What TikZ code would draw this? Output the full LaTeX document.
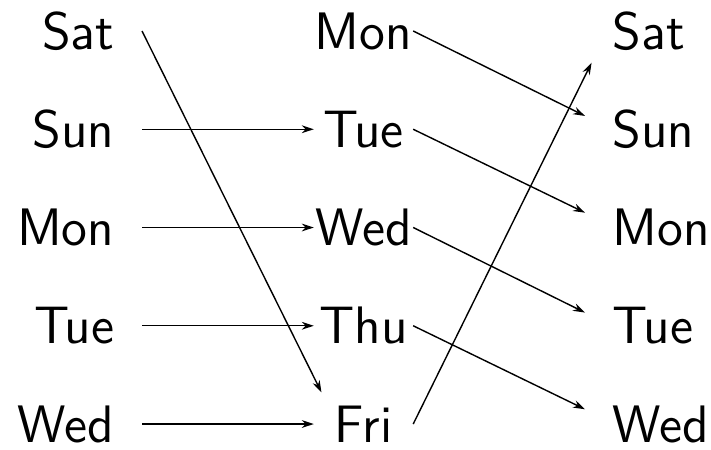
\documentclass[tikz,border=0pt]{standalone}
\usetikzlibrary{arrows.meta}

\tikzset{
  lday/.style={anchor=east,inner xsep=0.27cm,inner ysep=0pt,minimum height=0.62cm},
  mday/.style={inner sep=0pt,minimum width=0.98cm,minimum height=0.62cm},
  rday/.style={anchor=west,inner xsep=0.27cm,inner ysep=0pt,minimum height=0.62cm}
}

\begin{document}
\begin{tikzpicture}[>={Stealth[length=3.4pt,width=2.2pt]},line width=0.4pt,
    font=\sffamily\fontsize{15}{17}\selectfont]
  \useasboundingbox (0,0) rectangle (7.11,4.49);
  % left column
  \node[lday] (l1) at (1.42,4.18)   {Sat};
  \node[lday] (l2) at (1.42,3.1975) {Sun};
  \node[lday] (l3) at (1.42,2.215)  {Mon};
  \node[lday] (l4) at (1.42,1.2325) {Tue};
  \node[lday] (l5) at (1.42,0.25)   {Wed};
  % middle column
  \node[mday] (m1) at (3.635,4.18)   {Mon};
  \node[mday] (m2) at (3.635,3.1975) {Tue};
  \node[mday] (m3) at (3.635,2.215)  {Wed};
  \node[mday] (m4) at (3.635,1.2325) {Thu};
  \node[mday] (m5) at (3.635,0.25)   {Fri};
  % right column
  \node[rday] (r1) at (5.85,4.18)   {Sat};
  \node[rday] (r2) at (5.85,3.1975) {Sun};
  \node[rday] (r3) at (5.85,2.215)  {Mon};
  \node[rday] (r4) at (5.85,1.2325) {Tue};
  \node[rday] (r5) at (5.85,0.25)   {Wed};
  % left -> middle
  \draw[->] (l1.east) -- (m5.143);
  \draw[->] (l2.east) -- (m2.west);
  \draw[->] (l3.east) -- (m3.west);
  \draw[->] (l4.east) -- (m4.west);
  \draw[->] (l5.east) -- (m5.west);
  % middle -> right
  \draw[->] (m1.east) -- (r2.169);
  \draw[->] (m2.east) -- (r3.169);
  \draw[->] (m3.east) -- (r4.169);
  \draw[->] (m4.east) -- (r5.169);
  \draw[->] (m5.east) -- (r1.209);
\end{tikzpicture}
\end{document}
